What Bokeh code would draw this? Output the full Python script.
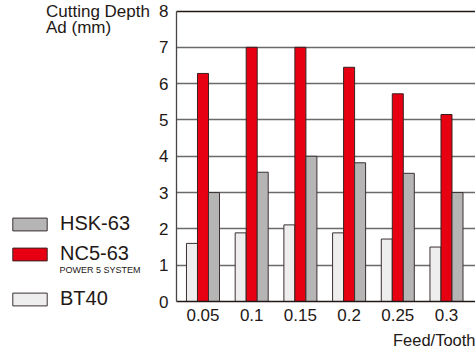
from bokeh.plotting import figure
from bokeh.models import Range1d, FixedTicker, Label, Legend, LegendItem, ColumnDataSource, Grid
from bokeh.transform import dodge
from bokeh.embed import file_html
from bokeh.resources import INLINE

# ---- data ----
feed_labels = ["0.05", "0.1", "0.15", "0.2", "0.25", "0.3"]
bt40 = [1.6, 1.89, 2.11, 1.89, 1.72, 1.5]
nc5_63 = [6.28, 7.0, 7.0, 6.45, 5.72, 5.15]
hsk_63 = [3.0, 3.56, 4.0, 3.82, 3.53, 3.0]
y_ticks = [0, 1, 2, 3, 4, 5, 6, 7, 8]

FONT = "Liberation Sans"
TXT = "#231815"
C_BT, C_NC, C_HS = "#eeeeee", "#e60012", "#b5b5b5"
LINE = "#3a3030"
BW = 0.226

W, H = 475, 350
# layout geometry (pixels): plot area left/top/bottom, group spacing
FL, FT, FB = 176, 10.5, 301
PX_X = 48.7
PX_Y = (FB - FT) / 8.0
GX0 = -0.544                     # data x at the plot-area left edge
xs = GX0 - FL / PX_X
xe = xs + W / PX_X
ye = 8 + FT / PX_Y
ys = ye - H / PX_Y

def X(px):
    return xs + px / PX_X

def Y(py):
    return ye - py / PX_Y

idx = list(range(len(feed_labels)))
src = ColumnDataSource(dict(i=idx, bt40=bt40, nc5=nc5_63, hsk=hsk_63))

p = figure(width=W, height=H, output_backend="svg", toolbar_location=None,
           x_range=Range1d(xs, xe), y_range=Range1d(ys, ye),
           min_border_left=0, min_border_right=0, min_border_top=0, min_border_bottom=0)
p.outline_line_color = None

r_bt = p.vbar(x=dodge("i", -BW, range=p.x_range), top="bt40", width=BW, source=src,
              fill_color=C_BT, line_color=LINE, line_width=1)
r_nc = p.vbar(x=dodge("i", 0, range=p.x_range), top="nc5", width=BW, source=src,
              fill_color=C_NC, line_color="#3a2020", line_width=1)
r_hs = p.vbar(x=dodge("i", BW, range=p.x_range), top="hsk", width=BW, source=src,
              fill_color=C_HS, line_color=LINE, line_width=1)

# axes, fixed inside the canvas
p.xaxis.ticker = FixedTicker(ticks=idx)
p.xaxis.major_label_overrides = {i: s for i, s in zip(idx, feed_labels)}
p.yaxis.ticker = FixedTicker(ticks=y_ticks)
p.xaxis.fixed_location = 0
p.yaxis.fixed_location = GX0
p.xaxis.bounds = (GX0, xe)
p.yaxis.bounds = (0, 8)
for ax in (p.xaxis[0], p.yaxis[0]):
    ax.major_tick_in = 0
    ax.major_tick_out = 0
    ax.minor_tick_in = 0
    ax.minor_tick_out = 0
    ax.axis_line_width = 1.3
    ax.major_label_text_font = FONT
    ax.major_label_text_font_size = "17px"
    ax.major_label_text_color = TXT
p.xaxis.axis_line_color = TXT
p.yaxis.axis_line_color = "#4a4444"
p.xaxis.major_label_standoff = 7
p.yaxis.major_label_standoff = 8

p.xgrid.visible = False
p.ygrid.ticker = FixedTicker(ticks=y_ticks[1:-1])
p.ygrid.grid_line_color = "#6a6a6a"
p.ygrid.grid_line_width = 1.3
p.ygrid.cross_bounds = (GX0, xe)
p.ygrid.level = "underlay"

top_grid = Grid(dimension=1, ticker=FixedTicker(ticks=y_ticks[-1:]), grid_line_color=TXT,
                grid_line_width=1.3, cross_bounds=(GX0, xe))
p.add_layout(top_grid)

# legend
def add_leg(name, rend, vy):
    leg = Legend(items=[LegendItem(label=name, renderers=[rend])], location=(8, vy),
                 glyph_width=43, glyph_height=16, label_height=16, label_standoff=9,
                 padding=0, margin=0, spacing=0, border_line_color=None,
                 background_fill_alpha=0, label_text_font=FONT,
                 label_text_font_size="20px", label_text_color=TXT)
    p.add_layout(leg)

add_leg("HSK-63", r_hs, 115)
add_leg("NC5-63", r_nc, 85)
add_leg("BT40", r_bt, 40)

p.add_layout(Label(x=X(59), y=Y(264), text="POWER 5 SYSTEM", text_font=FONT,
                   text_font_size="9px", text_color=TXT, text_baseline="top"))
p.add_layout(Label(x=X(45.5), y=Y(1.5), text="Cutting Depth", text_font=FONT,
                   text_font_size="17px", text_color=TXT, text_baseline="top"))
p.add_layout(Label(x=X(45.5), y=Y(17), text="Ad (mm)", text_font=FONT,
                   text_font_size="17px", text_color=TXT, text_baseline="top"))
p.add_layout(Label(x=X(475), y=Y(330), text="Feed/Tooth", text_font=FONT,
                   text_font_size="16.5px", text_color=TXT, text_align="right",
                   text_baseline="top"))

open("out.html", "w").write(file_html(p, INLINE))
